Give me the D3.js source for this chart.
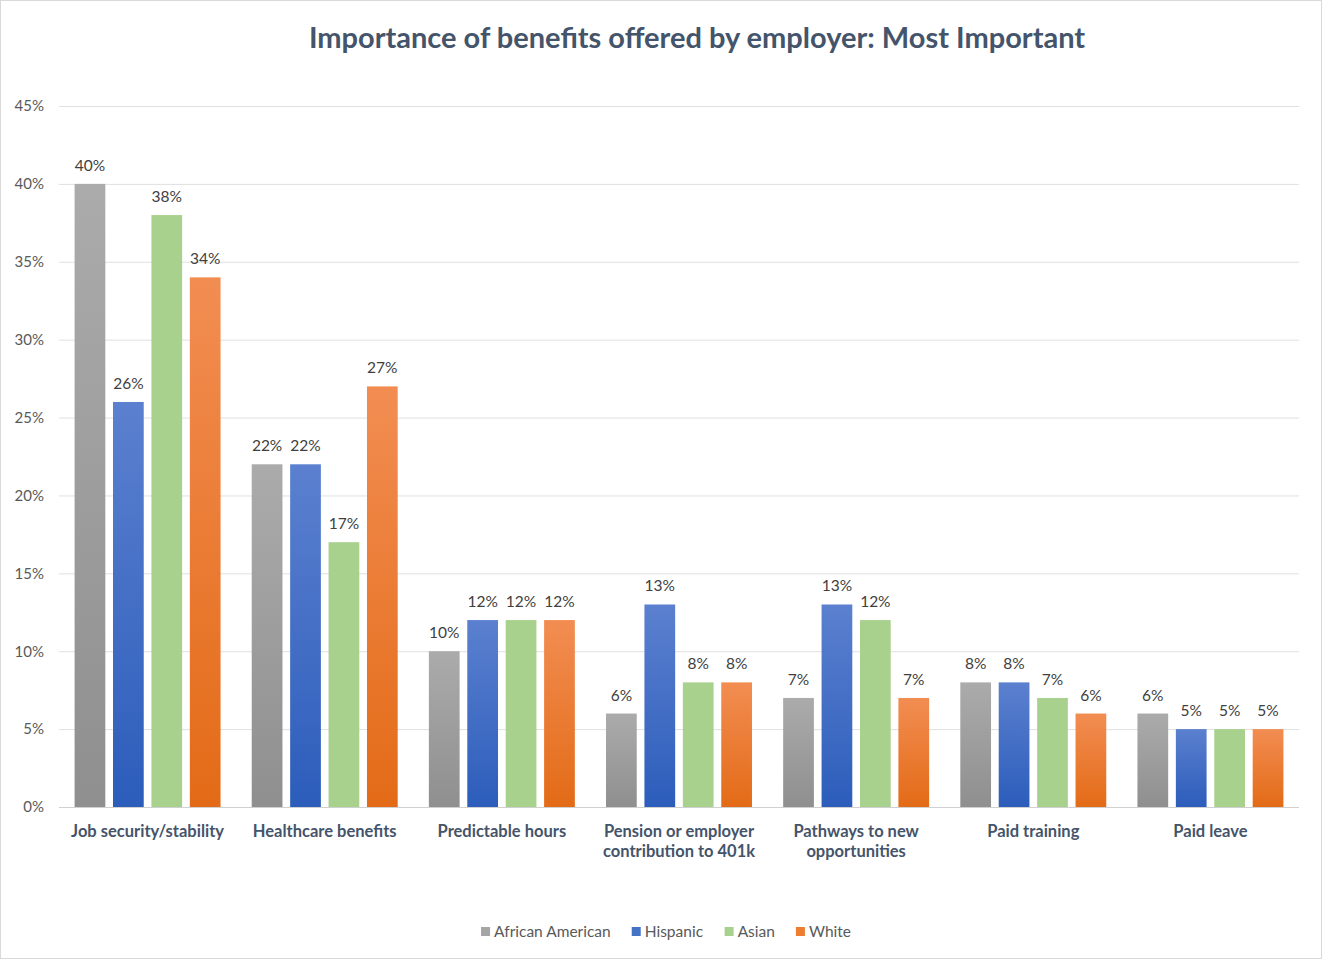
<!DOCTYPE html>
<html>
<head>
<meta charset="utf-8">
<script src="https://cdn.jsdelivr.net/npm/d3@7"></script>
<style>
  html, body { margin: 0; padding: 0; background: #fff; }
  svg { display: block; font-family: Lato, "Open Sans", sans-serif; }
</style>
</head>
<body>
<svg id="chart" width="1322" height="959"></svg>
<script>
// Survey results: share of respondents naming each benefit as most important
const categories = [
  ["Job security/stability"],
  ["Healthcare benefits"],
  ["Predictable hours"],
  ["Pension or employer", "contribution to 401k"],
  ["Pathways to new", "opportunities"],
  ["Paid training"],
  ["Paid leave"]
];
const seriesNames = ["African American", "Hispanic", "Asian", "White"];
const africanAmerican = [40, 22, 10, 6, 7, 8, 6];
const hispanic        = [26, 22, 12, 13, 13, 8, 5];
const asian           = [38, 17, 12, 8, 12, 7, 5];
const white           = [34, 27, 12, 8, 7, 6, 5];
const yTicks = [0, 5, 10, 15, 20, 25, 30, 35, 40, 45];

const seriesValues = [africanAmerican, hispanic, asian, white];
const seriesColors = [
  { top: "#ababab", bottom: "#8f8f8f", flat: "#a5a5a5" },
  { top: "#5b80cf", bottom: "#2c5dbb", flat: "#4472c4" },
  { top: "#a9d18e", bottom: "#a9d18e", flat: "#a9d18e" },
  { top: "#f28d52", bottom: "#e36b17", flat: "#ed7d31" }
];

const svg = d3.select("#chart");
const W = 1322, H = 959;
const plot = { left: 59, right: 1299, top: 106, bottom: 807 };

// outer frame
svg.append("rect")
  .attr("x", 0.5).attr("y", 0.5)
  .attr("width", W - 1).attr("height", H - 1)
  .attr("fill", "#fff").attr("stroke", "#d9d9d9");

// vertical gradients for the bars
const defs = svg.append("defs");
seriesColors.forEach((c, i) => {
  const g = defs.append("linearGradient")
    .attr("id", "grad" + i)
    .attr("x1", 0).attr("y1", 0).attr("x2", 0).attr("y2", 1);
  g.append("stop").attr("offset", "0%").attr("stop-color", c.top);
  g.append("stop").attr("offset", "100%").attr("stop-color", c.bottom);
});

const y = d3.scaleLinear().domain([0, 45]).range([plot.bottom, plot.top]);

const x0 = d3.scaleBand()
  .domain(d3.range(categories.length))
  .range([plot.left, plot.right])
  .paddingInner(0.176)
  .paddingOuter(0.088);

const x1 = d3.scaleBand()
  .domain(d3.range(seriesNames.length))
  .range([0, x0.bandwidth()])
  .paddingInner(0.2)
  .paddingOuter(0);

// gridlines and y tick labels
const yAxis = d3.axisLeft(y)
  .tickValues(yTicks)
  .tickSize(-(plot.right - plot.left))
  .tickPadding(15)
  .tickFormat(d => d + "%");

const yg = svg.append("g")
  .attr("transform", `translate(${plot.left},0)`)
  .call(yAxis);
yg.select(".domain").remove();
yg.selectAll(".tick line")
  .attr("stroke", d => d === 0 ? "#d0d0d0" : "#e0e0e0")
  .attr("stroke-width", 1);
yg.selectAll(".tick text")
  .attr("fill", "#595959")
  .attr("font-size", 15)
  .attr("font-family", "Lato, sans-serif");

// bars
const groups = svg.append("g").selectAll("g")
  .data(categories)
  .join("g")
  .attr("transform", (d, i) => `translate(${x0(i)},0)`);

groups.each(function(cat, ci) {
  const g = d3.select(this);
  const vals = seriesValues.map((s, si) => ({ si, v: s[ci] }));
  g.selectAll("rect")
    .data(vals)
    .join("rect")
    .attr("x", d => x1(d.si))
    .attr("y", d => y(d.v))
    .attr("width", x1.bandwidth())
    .attr("height", d => y(0) - y(d.v))
    .attr("fill", d => `url(#grad${d.si})`);
  g.selectAll("text.val")
    .data(vals)
    .join("text")
    .attr("class", "val")
    .attr("x", d => x1(d.si) + x1.bandwidth() / 2)
    .attr("y", d => y(d.v) - 13)
    .attr("text-anchor", "middle")
    .attr("fill", "#404040")
    .attr("font-size", 15.5)
    .text(d => d.v + "%");
});

// category labels
const catLabels = svg.append("g").selectAll("text")
  .data(categories)
  .join("text")
  .attr("x", (d, i) => x0(i) + x0.bandwidth() / 2)
  .attr("y", 836.5)
  .attr("text-anchor", "middle")
  .attr("fill", "#44546a")
  .attr("font-size", 16.5)
  .attr("font-weight", "bold");
catLabels.each(function(lines) {
  d3.select(this).selectAll("tspan")
    .data(lines)
    .join("tspan")
    .attr("x", d3.select(this).attr("x"))
    .attr("dy", (d, i) => i === 0 ? 0 : 20)
    .text(d => d);
});

// title
svg.append("text")
  .attr("x", 697)
  .attr("y", 48)
  .attr("text-anchor", "middle")
  .attr("fill", "#44546a")
  .attr("font-size", 29)
  .attr("font-weight", "bold")
  .text("Importance of benefits offered by employer: Most Important");

// legend
const legend = svg.append("g").attr("transform", "translate(0,932)");
const items = legend.selectAll("g")
  .data(seriesNames)
  .join("g");
items.append("rect")
  .attr("width", 9).attr("height", 9)
  .attr("y", -5)
  .attr("fill", (d, i) => seriesColors[i].flat);
items.append("text")
  .attr("x", 13)
  .attr("y", 0)
  .attr("dy", "0.35em")
  .attr("fill", "#595959")
  .attr("font-size", 15.5)
  .text(d => d);
// lay the items out in a centered row
let widths = [];
items.each(function() { widths.push(this.getBBox().width); });
const gap = 21;
const total = d3.sum(widths) + gap * (widths.length - 1);
let cx = 666 - total / 2;
items.attr("transform", (d, i) => {
  const t = `translate(${cx},0)`;
  cx += widths[i] + gap;
  return t;
});
</script>
</body>
</html>
